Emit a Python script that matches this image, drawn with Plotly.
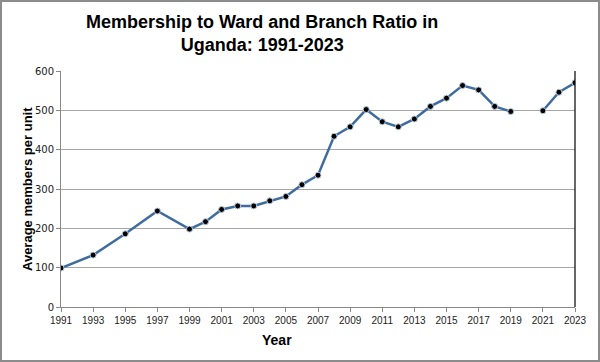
import plotly.graph_objects as go

years = [1991, 1993, 1995, 1997, 1999, 2000, 2001, 2002, 2003, 2004, 2005, 2006, 2007,
         2008, 2009, 2010, 2011, 2012, 2013, 2014, 2015, 2016, 2017, 2018, 2019, 2020,
         2021, 2022, 2023]
members_per_unit = [99, 132, 186, 244, 198, 217, 248, 257, 257, 270, 281, 311, 335,
                    434, 458, 502, 471, 458, 478, 510, 531, 563, 552, 510, 497, None,
                    499, 546, 570]
x_ticks = list(range(1991, 2024, 2))
y_ticks = [0, 100, 200, 300, 400, 500, 600]

fig = go.Figure()
fig.add_trace(go.Scatter(
    x=years, y=members_per_unit, mode="lines+markers", connectgaps=False,
    line=dict(color="#3f6c9f", width=2.5),
    marker=dict(color="black", size=6, line=dict(color="#b8cbe0", width=1)),
    showlegend=False, hoverinfo="skip",
))

L, R, T, B = 61, 25, 71, 55
W, H = 600, 362
pw = W - L - R
ph = H - T - B

fig.update_layout(
    width=W, height=H,
    margin=dict(l=L, r=R, t=T, b=B),
    paper_bgcolor="white", plot_bgcolor="white",
    font=dict(family="Liberation Sans, Arial, sans-serif", color="#222"),
    xaxis=dict(range=[1991, 2023], tickvals=x_ticks, ticktext=[str(t) for t in x_ticks],
               showgrid=False, zeroline=False, showline=True, linecolor="#888",
               linewidth=1, ticks="outside", ticklen=4, tickcolor="#888",
               tickfont=dict(size=10, color="#222"), mirror=False),
    yaxis=dict(range=[0, 600], tickvals=y_ticks, showgrid=True, gridcolor="#a6a6a6",
               gridwidth=1, zeroline=False, showline=True, linecolor="#888",
               ticks="outside", ticklen=4, tickcolor="#888",
               tickfont=dict(size=10, color="#222", family="DejaVu Sans, sans-serif")),
    shapes=[
        dict(type="line", xref="paper", yref="paper", x0=1, x1=1, y0=0, y1=1,
             line=dict(color="black", width=1.2)),
        dict(type="rect", xref="paper", yref="paper",
             x0=-(L - 1) / pw, x1=1 + (R - 1) / pw, y0=-(B - 1) / ph, y1=1 + (T - 1) / ph,
             line=dict(color="#8c8c8c", width=2)),
    ],
    annotations=[
        dict(text="<b>Membership to Ward and Branch Ratio in<br>Uganda: 1991-2023</b>",
             xref="paper", yref="paper", x=(262 - L) / pw, y=1 + (T - 34) / ph,
             xanchor="center", yanchor="middle", showarrow=False,
             font=dict(size=18, color="black", family="Liberation Sans, Arial"),
             align="center"),
        dict(text="<b>Average members per unit</b>", textangle=-90,
             xref="paper", yref="paper", x=-(L - 27) / pw, y=0.5,
             xanchor="center", yanchor="middle", showarrow=False,
             font=dict(size=13, color="black", family="Liberation Sans, Arial")),
        dict(text="<b>Year</b>", xref="paper", yref="paper",
             x=(277 - L) / pw, y=-(340 - (H - B)) / ph,
             xanchor="center", yanchor="middle", showarrow=False,
             font=dict(size=14, color="black", family="Liberation Sans, Arial")),
    ],
)

fig.write_html("out.html", config={"displayModeBar": False},
               post_script="document.body.style.margin='0';")
